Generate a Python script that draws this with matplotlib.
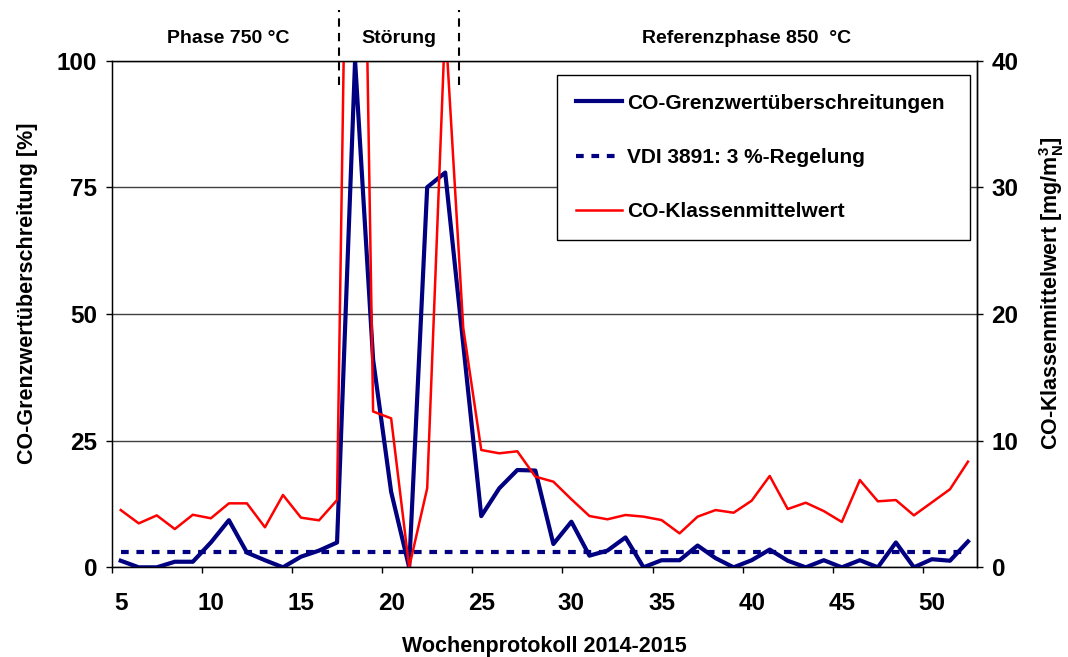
import numpy as np
import matplotlib
matplotlib.use("Agg")
import matplotlib.pyplot as plt
import matplotlib.transforms as mtransforms
from matplotlib.ticker import FixedLocator

plt.rcParams["font.family"] = ["Liberation Sans", "DejaVu Sans"]
plt.rcParams["font.weight"] = "bold"
plt.rcParams["axes.labelweight"] = "bold"
plt.rcParams["mathtext.fontset"] = "custom"
plt.rcParams["mathtext.rm"] = "Liberation Sans:bold"
plt.rcParams["mathtext.bf"] = "Liberation Sans:bold"
plt.rcParams["mathtext.default"] = "rm"

# Kalenderwochen 5 bis 52
weeks = np.arange(5, 53)

# Anteil der Grenzwertueberschreitungen je Woche [%]
co_exceed = [1.3, 0, 0, 1.1, 1.1, 4.9, 9.3, 2.9, 1.4, 0, 2.1, 3.3, 4.9,
             100, 41, 14.9, 0, 75, 77.9, 44, 10.1, 15.6, 19.2, 19.1, 4.6,
             9.0, 2.3, 3.3, 5.9, 0, 1.4, 1.4, 4.3, 1.8, 0, 1.4, 3.5, 1.3,
             0, 1.4, 0, 1.4, 0, 4.9, 0, 1.6, 1.3, 5.1]

# VDI 3891: 3 %-Regelung
vdi_limit = [3] * len(weeks)

# Klassenmittelwert CO [mg/m_N^3]
co_mean = [4.52, 3.47, 4.1, 3.02, 4.15, 3.87, 5.05, 5.05, 3.16, 5.71, 3.92,
           3.71, 5.31, 100, 12.3, 11.76, 0, 6.24, 43, 18.9, 9.26, 9.0, 9.16,
           7.16, 6.76, 5.37, 4.05, 3.79, 4.13, 4.0, 3.73, 2.68, 4.0, 4.52,
           4.31, 5.26, 7.21, 4.6, 5.1, 4.44, 3.58, 6.89, 5.21, 5.31, 4.1,
           5.13, 6.16, 8.34]

x_labels = [5, 10, 15, 20, 25, 30, 35, 40, 45, 50]
y_left_ticks = [0, 25, 50, 75, 100]
y_right_ticks = [0, 10, 20, 30, 40]

phase_bounds = [17.1, 23.75]
phase_names = ["Phase 750 °C", "Störung", "Referenzphase 850  °C"]
phase_centers = [10.96, 20.44, 39.7]

navy = "#000080"
red = "#FF0000"

fig = plt.figure(figsize=(10.68, 6.57), dpi=100)
ax = fig.add_axes([0.1046, 0.1365, 0.8102, 0.7713])

l1, = ax.plot(weeks, co_exceed, color=navy, lw=3,
              label="CO-Grenzwertüberschreitungen", zorder=3)
l2, = ax.plot(weeks, vdi_limit, color=navy, lw=3, ls=(0, (1.85, 1.85)),
              dash_capstyle="butt", label="VDI 3891: 3 %-Regelung", zorder=3)

ax.set_xlim(4.5, 52.5)
ax.set_ylim(0, 100)
ax.set_yticks(y_left_ticks)
ax.set_xticks(x_labels)
ax.xaxis.set_minor_locator(FixedLocator(np.arange(4.5, 50, 5)))
ax.tick_params(axis="x", which="major", length=0, pad=18, labelsize=17.5)
ax.tick_params(axis="x", which="minor", length=4.5, width=1, direction="out")
ax.tick_params(axis="y", length=4.5, width=1, direction="out", pad=6,
               labelsize=17.5)
ax.grid(axis="y", color="#404040", lw=1, zorder=0)
for s in ax.spines.values():
    s.set_color("black")
    s.set_linewidth(1)

ax.set_xlabel("Wochenprotokoll 2014-2015", fontsize=15.5, labelpad=15)
ax.set_ylabel("CO-Grenzwertüberschreitung [%]", fontsize=15.5)
ax.yaxis.set_label_coords(-0.085, 0.54)

ax2 = ax.twinx()
l3, = ax2.plot(weeks, co_mean, color=red, lw=1.8, label="CO-Klassenmittelwert")
ax2.set_ylim(0, 40)
ax2.set_yticks(y_right_ticks)
ax2.tick_params(axis="y", length=4.5, width=1, direction="out", pad=6,
                labelsize=17.5)
ax2.set_ylabel(r"CO-Klassenmittelwert [mg/m$_{\mathrm{N}}^{\mathrm{3}}$]",
               fontsize=15.5)
ax2.yaxis.set_label_coords(1.069, 0.54)
ax2.spines["right"].set_linewidth(1)

# Phasenmarkierungen oberhalb des Diagramms
trans = mtransforms.blended_transform_factory(ax.transData, ax.transAxes)
for xb in phase_bounds:
    ax2.plot([xb, xb], [0.952, 1.10], color="black", lw=1.5,
             ls=(0, (4, 3)), transform=trans, clip_on=False)
for name, xc in zip(phase_names, phase_centers):
    ax2.text(xc, 1.043, name, transform=trans, ha="center", va="center",
             fontsize=14)

leg = ax2.legend(handles=[l1, l2, l3], loc="upper left",
                 bbox_to_anchor=(0.5146, 0.642, 0.4774, 0.3296),
                 mode="expand", borderaxespad=0, fontsize=15,
                 labelspacing=1.69, borderpad=0.9, handlelength=2.2,
                 handletextpad=0.25, fancybox=False, framealpha=1)
leg.get_frame().set_edgecolor("black")
leg.get_frame().set_linewidth(1)

fig.savefig("out.png", dpi=100)
